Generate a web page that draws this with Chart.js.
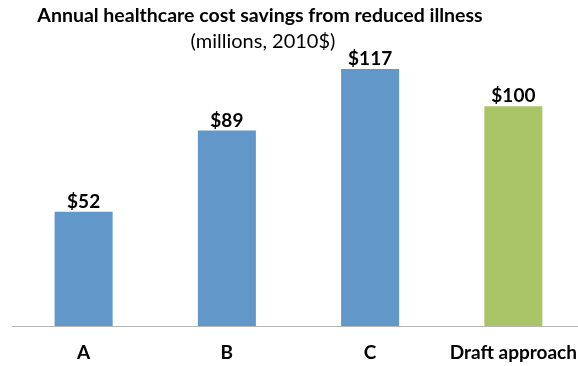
<!DOCTYPE html>
<html><head><meta charset="utf-8">
<script src="https://cdn.jsdelivr.net/npm/chart.js@4"></script>
<style>html,body{margin:0;padding:0;background:#fff;overflow:hidden;width:578px;height:366px}#w{width:600px;height:366px}</style>
</head><body><div id="w"><canvas id="c" width="600" height="366"></canvas></div>
<script>
const categories = ["A", "B", "C", "Draft approach"];
const savings = [52, 89, 117, 100];
const valueLabels = ["$52", "$89", "$117", "$100"];
const barColors = ["#6197C9", "#6197C9", "#6197C9", "#A9C467"];
const titleText = "Annual healthcare cost savings from reduced illness";
const subtitleText = "(millions, 2010$)";
const FONT = "Lato, 'Liberation Sans', sans-serif";

const titlePlugin = {
  id: 'customTitle',
  afterDraw(chart) {
    const ctx = chart.ctx;
    ctx.save();
    ctx.fillStyle = "#000";
    ctx.textAlign = "center";
    ctx.textBaseline = "alphabetic";
    ctx.font = "bold 19.5px " + FONT;
    ctx.fillText(titleText, 260, 22);
    ctx.font = "20px " + FONT;
    ctx.fillText(subtitleText, 263, 48);
    ctx.restore();
  }
};
const valueLabelPlugin = {
  id: 'valueLabels',
  afterDatasetsDraw(chart) {
    const ctx = chart.ctx;
    const meta = chart.getDatasetMeta(0);
    ctx.save();
    ctx.font = "bold 19px " + FONT;
    ctx.fillStyle = "#000";
    ctx.textAlign = "center";
    ctx.textBaseline = "alphabetic";
    meta.data.forEach((bar, i) => {
      ctx.fillText(valueLabels[i], bar.x, bar.y - 4);
    });
    ctx.restore();
  }
};
const baselinePlugin = {
  id: 'baseline',
  afterDatasetsDraw(chart) {
    const ctx = chart.ctx;
    const y = Math.round(chart.scales.y.getPixelForValue(0)) + 0.5;
    ctx.save();
    ctx.strokeStyle = "#B5B5B5";
    ctx.lineWidth = 1;
    ctx.beginPath();
    ctx.moveTo(chart.chartArea.left, y);
    ctx.lineTo(chart.width, y);
    ctx.stroke();
    ctx.restore();
  }
};

new Chart(document.getElementById('c'), {
  type: 'bar',
  data: {
    labels: categories,
    datasets: [{ data: savings, backgroundColor: barColors, barPercentage: 1, categoryPercentage: 0.405 }]
  },
  options: {
    responsive: false,
    animation: false,
    layout: { padding: { left: 12, right: 15, top: 60, bottom: 0 } },
    plugins: {
      legend: { display: false },
      tooltip: { enabled: false },
      title: { display: false }
    },
    scales: {
      x: {
        grid: { display: false, drawTicks: false },
        border: { display: false },
        ticks: { color: "#000", font: { family: FONT, size: 19, weight: 'bold' }, padding: 15, maxRotation: 0, autoSkip: false },
        afterFit(scale) { scale.height = 40; }
      },
      y: { display: false, min: 0, max: 121.1 }
    }
  },
  plugins: [titlePlugin, valueLabelPlugin, baselinePlugin]
});
</script></body></html>
